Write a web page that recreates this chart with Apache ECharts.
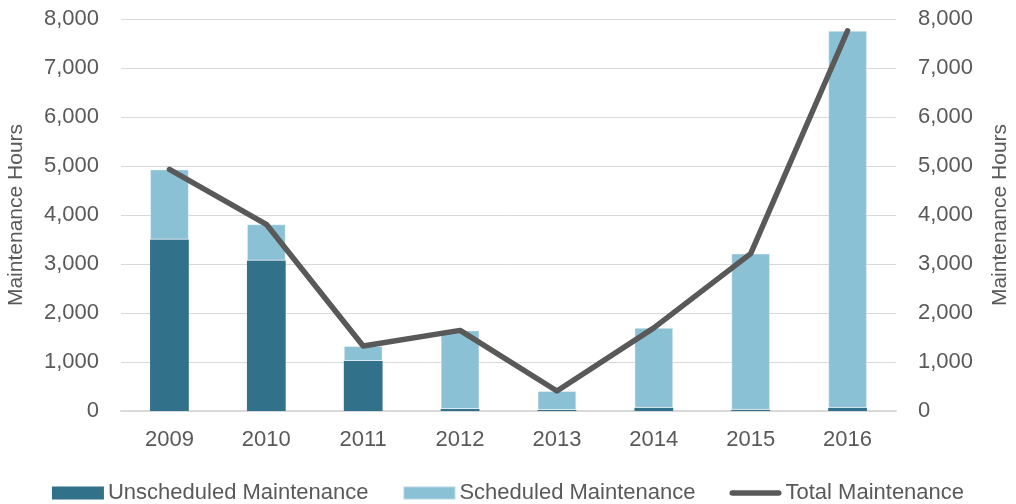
<!DOCTYPE html>
<html>
<head>
<meta charset="utf-8">
<script src="https://cdn.jsdelivr.net/npm/echarts@6/dist/echarts.min.js"></script>
<style>
  html, body { margin: 0; padding: 0; background: #fff; }
  #chart { width: 1016px; height: 504px; }
</style>
</head>
<body>
<div id="chart"></div>
<script>
const years = ['2009', '2010', '2011', '2012', '2013', '2014', '2015', '2016']
const unscheduled = [3500, 3070, 1020, 40, 20, 65, 25, 65]
const scheduled = [1430, 740, 305, 1605, 388, 1632, 3187, 7695]
const total = [4930, 3810, 1325, 1645, 408, 1697, 3212, 7760]

const font = '"Liberation Sans", Arial, sans-serif'
const textColor = '#595959'
const fmt = v => v.toLocaleString('en-US')

const chart = echarts.init(document.getElementById('chart'))

const valueAxis = (pos) => ({
  type: 'value',
  position: pos,
  min: 0,
  max: 8000,
  interval: 1000,
  name: 'Maintenance Hours',
  nameLocation: 'middle',
  nameGap: pos === 'left' ? 94 : 94,
  nameRotate: 90,
  nameTextStyle: { color: textColor, fontSize: 21, fontFamily: font },
  axisLine: { show: false },
  axisTick: { show: false },
  axisLabel: { color: textColor, fontSize: 22, fontFamily: font, margin: 22, formatter: fmt },
  splitLine: { show: pos === 'left', lineStyle: { color: '#d9d9d9', width: 1 } },
})

chart.setOption({
  animation: false,
  grid: { left: 121, right: 120, top: 19, bottom: 93, outerBoundsMode: 'none' },
  legend: {
    top: 477,
    left: 'center',
    itemWidth: 52,
    itemHeight: 13,
    itemGap: 34,
    textStyle: { color: textColor, fontSize: 22, fontFamily: font, padding: [0, 0, 0, -1] },
    data: [
      { name: 'Unscheduled Maintenance', icon: 'rect' },
      { name: 'Scheduled Maintenance', icon: 'rect' },
      { name: 'Total Maintenance', icon: 'path://M3,0 H53 A3,3 0 0 1 53,6 H3 A3,3 0 0 1 3,0 Z' },
    ],
  },
  xAxis: {
    type: 'category',
    data: years,
    axisLine: { lineStyle: { color: '#d9d9d9', width: 2 } },
    axisTick: { show: false },
    axisLabel: { color: textColor, fontSize: 22, fontFamily: font, margin: 18 },
  },
  yAxis: [valueAxis('left'), valueAxis('right')],
  series: [
    {
      name: 'Unscheduled Maintenance',
      type: 'bar',
      stack: 'hours',
      barWidth: '40%',
      data: unscheduled,
      itemStyle: { color: '#317189' },
    },
    {
      name: 'Scheduled Maintenance',
      type: 'bar',
      stack: 'hours',
      barWidth: '40%',
      data: scheduled,
      itemStyle: { color: '#8bc1d5', borderColor: 'rgba(255,255,255,0.35)', borderWidth: 1 },
    },
    {
      name: 'Total Maintenance',
      type: 'line',
      yAxisIndex: 1,
      data: total,
      symbol: 'none',
      lineStyle: { color: '#595959', width: 5.5, cap: 'round', join: 'round' },
      itemStyle: { color: '#595959' },
    },
  ],
})
</script>
</body>
</html>
